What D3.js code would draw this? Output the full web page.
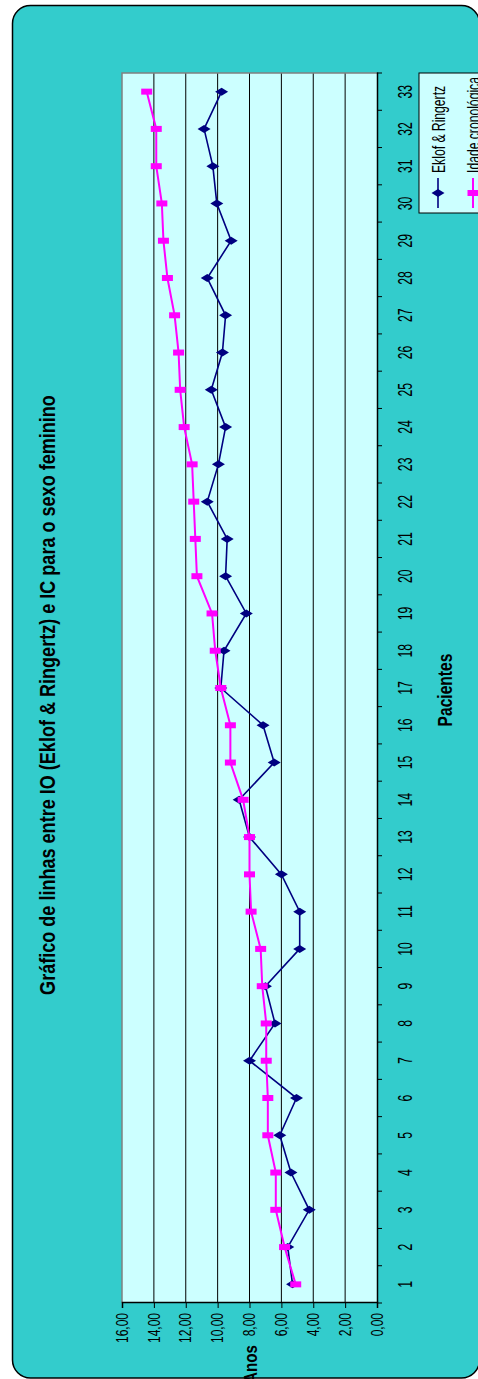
<!DOCTYPE html>
<html>
<head>
<meta charset="utf-8">
<script src="https://cdn.jsdelivr.net/npm/d3@7"></script>
<style>
  html, body { margin: 0; padding: 0; background: #ffffff; }
  svg { display: block; }
  text { font-family: "Liberation Sans", Arial, sans-serif; fill: #000; }
</style>
</head>
<body>
<svg id="chart" width="478" height="1379"></svg>
<script>
// Patients 1..33
const pacientes = d3.range(1, 34);

// Bone age (Eklof & Ringertz), years
const eklofRingertz = [
  5.3, 5.6, 4.25, 5.4, 6.1, 5.05, 8.0, 6.4, 7.0, 4.85, 4.85, 6.0, 8.0,
  8.65, 6.45, 7.15, 9.8, 9.6, 8.2, 9.5, 9.4, 10.65, 9.95, 9.5, 10.4,
  9.7, 9.5, 10.65, 9.15, 10.05, 10.3, 10.85, 9.75
];

// Chronological age, years
const idadeCronologica = [
  5.1, 5.8, 6.35, 6.35, 6.85, 6.85, 6.95, 6.95, 7.2, 7.3, 7.9, 8.0, 8.0,
  8.4, 9.2, 9.2, 9.8, 10.15, 10.35, 11.3, 11.4, 11.5, 11.6, 12.1, 12.35,
  12.45, 12.7, 13.15, 13.4, 13.5, 13.85, 13.85, 14.45
];

const yTicks = [0, 2, 4, 6, 8, 10, 12, 14, 16];

const titulo = "Gráfico de linhas entre IO (Eklof & Ringertz) e IC para o sexo feminino";
const seriesNomes = ["Eklof & Ringertz", "Idade cronológica"];

// ---- layout (chart drawn landscape, then turned to portrait) ----
const PAGE_W = 478, PAGE_H = 1379;
const plot = { left: 76, right: 1306, top: 122, bottom: 377 };

const svg = d3.select("#chart");

// outer rounded panel
svg.append("rect")
  .attr("x", 12.5).attr("y", 5.5)
  .attr("width", 467).attr("height", 1372.5)
  .attr("rx", 18).attr("ry", 18)
  .attr("fill", "#33CCCC")
  .attr("stroke", "#000").attr("stroke-width", 1.5);

const g = svg.append("g")
  .attr("transform", `translate(0,${PAGE_H}) rotate(-90)`);

const x = d3.scaleBand()
  .domain(pacientes)
  .range([plot.left, plot.right])
  .paddingInner(0).paddingOuter(0);

const y = d3.scaleLinear()
  .domain([0, 16])
  .range([plot.bottom, plot.top]);

const cx = d => x(d) + x.bandwidth() / 2;

// plot background
g.append("rect")
  .attr("x", plot.left).attr("y", plot.top)
  .attr("width", plot.right - plot.left).attr("height", plot.bottom - plot.top)
  .attr("fill", "#CCFFFF");

// horizontal gridlines
g.append("g")
  .selectAll("line")
  .data(yTicks.filter(v => v > 0 && v < 16))
  .join("line")
  .attr("x1", plot.left).attr("x2", plot.right)
  .attr("y1", d => y(d)).attr("y2", d => y(d))
  .attr("stroke", "#000").attr("stroke-width", 1);

// plot frame (top and right in grey)
g.append("path")
  .attr("d", `M${plot.left},${plot.top}H${plot.right}V${plot.bottom}`)
  .attr("fill", "none").attr("stroke", "#808080").attr("stroke-width", 1.5);

// y axis
const fmt = v => d3.format(".2f")(v).replace(".", ",");
const sxY = 0.75;
const yAxis = g.append("g")
  .attr("transform", `translate(${plot.left},0)`)
  .call(d3.axisLeft(y).tickValues(yTicks).tickFormat(fmt).tickSize(5).tickPadding(5));
yAxis.select(".domain").attr("stroke", "#000").attr("stroke-width", 1.5);
yAxis.selectAll(".tick line").attr("stroke", "#000");
yAxis.selectAll(".tick text")
  .attr("font-size", 16)
  .attr("font-family", "Liberation Sans, Arial, sans-serif")
  .attr("x", -10 / sxY)
  .attr("transform", `scale(${sxY},1)`);

// x axis: labels centred in each category, ticks between categories
const sxX = 0.58;
const xAxis = g.append("g")
  .attr("transform", `translate(0,${plot.bottom})`)
  .call(d3.axisBottom(x).tickSize(0).tickPadding(20));
xAxis.select(".domain").attr("stroke", "#000").attr("stroke-width", 1.5);
xAxis.selectAll(".tick text")
  .attr("font-size", 21)
  .attr("font-family", "Liberation Sans, Arial, sans-serif")
  .attr("transform", `scale(${sxX},1)`);
xAxis.append("g")
  .selectAll("line")
  .data(pacientes.map(d => x(d)).concat([x.range()[1]]))
  .join("line")
  .attr("x1", d => d).attr("x2", d => d)
  .attr("y1", 0).attr("y2", 5)
  .attr("stroke", "#000");

// series
const series = [
  { name: seriesNomes[0], values: eklofRingertz, color: "#000080", width: 1.6, marker: "diamond" },
  { name: seriesNomes[1], values: idadeCronologica, color: "#FF00FF", width: 2, marker: "square" }
];

const markerPath = {
  diamond: "M0,-6.5L4,0L0,6.5L-4,0Z",
  square: "M-3,-5.5H3V5.5H-3Z"
};

const line = d3.line().x((d, i) => cx(pacientes[i])).y(d => y(d));

series.forEach(s => {
  g.append("path")
    .datum(s.values)
    .attr("d", line)
    .attr("fill", "none")
    .attr("stroke", s.color)
    .attr("stroke-width", s.width);
  g.append("g")
    .selectAll("path")
    .data(s.values)
    .join("path")
    .attr("transform", (d, i) => `translate(${cx(pacientes[i])},${y(d)})`)
    .attr("d", markerPath[s.marker])
    .attr("fill", s.color);
});

// title
const sxT = 0.84;
g.append("text")
  .attr("transform", `translate(684,55) scale(${sxT},1)`)
  .attr("text-anchor", "middle")
  .attr("font-size", 21.5).attr("font-weight", "bold")
  .text(titulo);

// axis titles
g.append("text")
  .attr("transform", `translate(689,452) scale(0.78,1)`)
  .attr("text-anchor", "middle")
  .attr("font-size", 20).attr("font-weight", "bold")
  .text("Pacientes");

g.append("text")
  .attr("transform", `translate(34,257) scale(0.8,1)`)
  .attr("text-anchor", "end")
  .attr("font-size", 19).attr("font-weight", "bold")
  .text("Anos");

// legend
const leg = g.append("g");
leg.append("rect")
  .attr("x", 1166).attr("y", 419)
  .attr("width", 140).attr("height", 90)
  .attr("fill", "#CCFFFF").attr("stroke", "#000").attr("stroke-width", 1);
series.forEach((s, i) => {
  const ly = 438 + i * 35;
  leg.append("line")
    .attr("x1", 1171).attr("x2", 1201)
    .attr("y1", ly).attr("y2", ly)
    .attr("stroke", s.color).attr("stroke-width", s.width);
  leg.append("path")
    .attr("transform", `translate(1186,${ly})`)
    .attr("d", markerPath[s.marker])
    .attr("fill", s.color);
  leg.append("text")
    .attr("transform", `translate(1206,${ly}) scale(0.64,1)`)
    .attr("dy", "0.36em")
    .attr("font-size", 19)
    .text(s.name);
});
</script>
</body>
</html>
